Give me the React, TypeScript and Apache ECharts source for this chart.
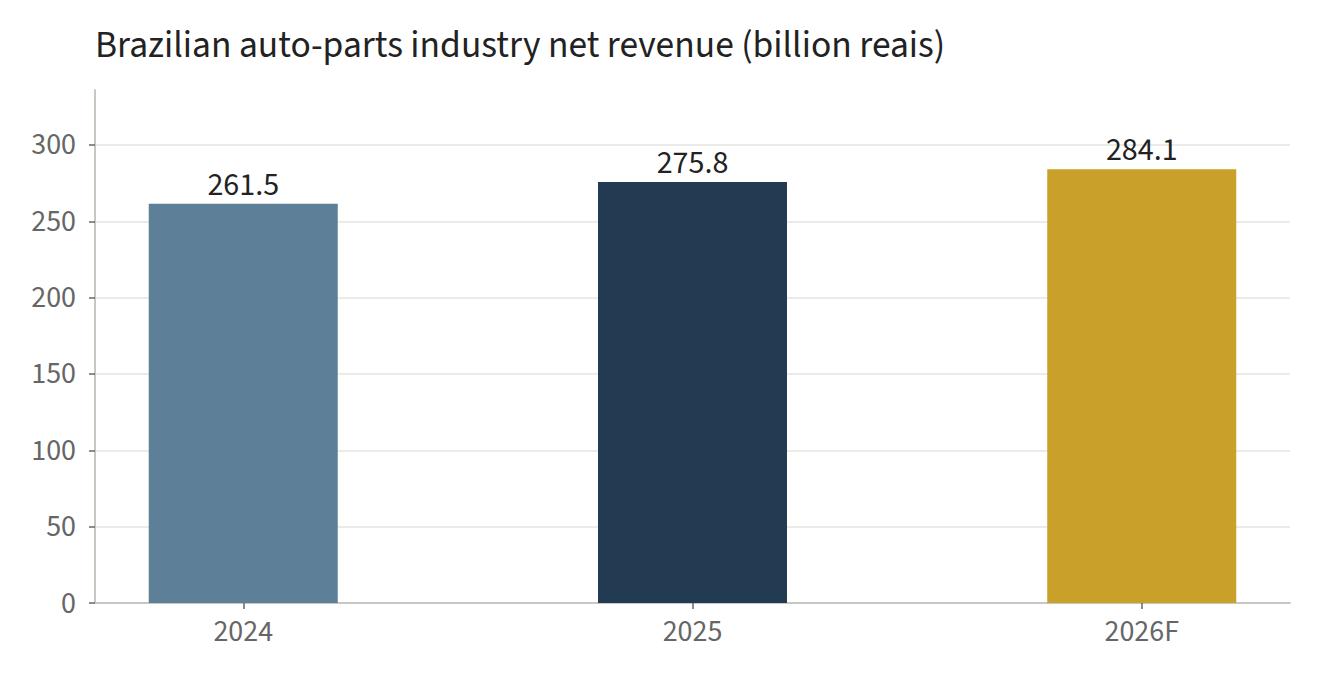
import React, { useEffect, useRef } from "react";
import * as echarts from "echarts";

const categories = ["2024", "2025", "2026F"];
const values = [261.5, 275.8, 284.1];
const barColors = ["#5d7f97", "#223a52", "#c9a12a"];
const yTicks = [0, 50, 100, 150, 200, 250, 300];
const titleText = "Brazilian auto-parts industry net revenue (billion reais)";

const FONT = "'Source Sans 3', 'Source Sans Pro', Lato, 'Noto Sans', sans-serif";

export default function App() {
  const ref = useRef<HTMLDivElement>(null);
  useEffect(() => {
    document.body.style.margin = "0";
    const chart = echarts.init(ref.current!, null, { renderer: "svg" });
    chart.setOption({
      animation: false,
      backgroundColor: "#ffffff",
      textStyle: { fontFamily: FONT },
      title: {
        text: titleText,
        left: 90,
        top: 21,
        textStyle: { fontFamily: FONT, fontSize: 37.5, fontWeight: "normal", color: "#222222" },
      },
      grid: { left: 95, right: 30, top: 90, bottom: 77 },
      xAxis: {
        type: "value",
        min: -0.33,
        max: 2.33,
        axisLine: { show: true, onZero: false, lineStyle: { color: "#c8c8c0", width: 2 } },
        axisTick: { show: true, customValues: [0, 1, 2], length: 6, lineStyle: { color: "#666666", width: 1.5 } },
        axisLabel: {
          customValues: [0, 1, 2],
          formatter: (v: number) => categories[Math.round(v)] ?? "",
          fontSize: 30,
          color: "#666666",
          margin: 13,
          fontFamily: FONT,
        },
        splitLine: { show: false },
      },
      yAxis: {
        type: "value",
        min: 0,
        max: 336,
        axisLine: { show: true, onZero: false, lineStyle: { color: "#c8c8c0", width: 2 } },
        axisTick: { show: true, customValues: yTicks, length: 6, lineStyle: { color: "#666666", width: 1.5 } },
        axisLabel: {
          customValues: yTicks,
          fontSize: 30,
          color: "#666666",
          margin: 19,
          fontFamily: FONT,
        },
        splitLine: { show: true, showMinLine: false, lineStyle: { color: "#e5e5e0", width: 1.5 } },
        interval: 50,
      },
      series: [
        {
          type: "bar",
          barWidth: 189,
          data: values.map((v, i) => ({
            value: [i, v],
            itemStyle: { color: barColors[i] },
          })),
          label: {
            show: true,
            position: "top",
            distance: 3,
            formatter: (p: any) => p.value[1].toFixed(1),
            fontSize: 32,
            color: "#222222",
            fontFamily: FONT,
          },
        },
      ],
    });
    return () => chart.dispose();
  }, []);
  return <div ref={ref} style={{ width: 1320, height: 680 }} />;
}
